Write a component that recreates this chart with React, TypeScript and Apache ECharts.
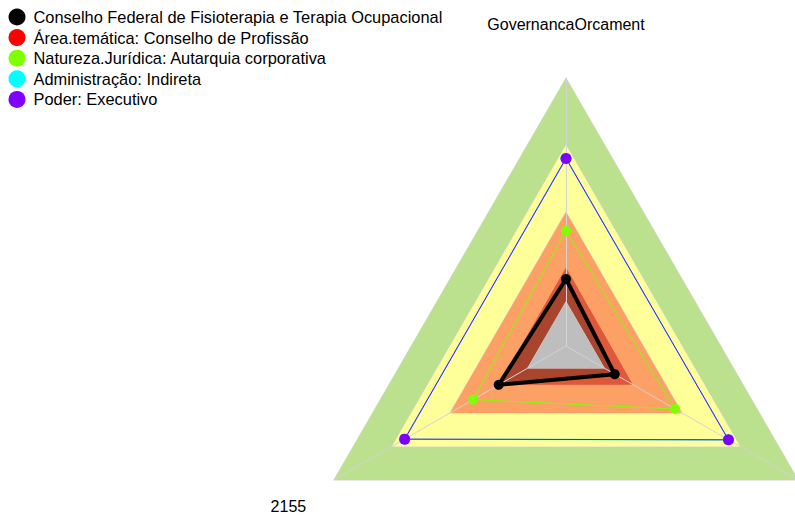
import React, { useEffect, useRef } from "react";
import * as echarts from "echarts";

const indicatorNames = ["GovernancaOrcament", "2155", ""];
const indicatorMax = 100;

// background bands (outer -> inner)
const bandGreen = [100, 100, 100];
const bandYellow = [75, 75, 75];
const bandOrange = [50, 50, 50];
const bandGray = [16.5, 16.5, 16.5];

const seriesNames = [
  "Conselho Federal de Fisioterapia e Terapia Ocupacional",
  "Área.temática: Conselho de Profissão",
  "Natureza.Jurídica: Autarquia corporativa",
  "Administração: Indireta",
  "Poder: Executivo",
];
const seriesColors = ["#000000", "#ff0000", "#80ff00", "#00ffff", "#8000ff"];

const conselhoValues = [25, 29, 21];
const areaTematicaValues = [29, 28.5, 28.5];
const naturezaValues = [43, 40, 47];
const administracaoValues = [70, 69.5, 70];
const poderValues = [70, 69.5, 70];

export default function App() {
  const ref = useRef<HTMLDivElement>(null);
  useEffect(() => {
    if (!ref.current) return;
    const chart = echarts.init(ref.current, undefined, { renderer: "svg" });
    const band = (name: string, values: number[], color: string, z = -1, line = "#d6d6d6") => ({
      type: "radar",
      name,
      z,
      silent: true,
      symbol: "none",
      data: [
        {
          name,
          value: values,
          lineStyle: { color: line, width: 1 },
          areaStyle: { color, opacity: 1 },
          itemStyle: { color },
        },
      ],
    });
    const lineSeries = (idx: number, values: number[], width: number, size: number, showSymbol = true) => ({
      type: "radar",
      name: seriesNames[idx],
      z: 2,
      silent: true,
      symbol: showSymbol ? "circle" : "none",
      symbolSize: size,
      data: [
        {
          name: seriesNames[idx],
          value: values,
          lineStyle: { color: seriesColors[idx], width, opacity: width > 0 ? 1 : 0 },
          itemStyle: { color: seriesColors[idx] },
        },
      ],
    });
    chart.setOption({
      animation: false,
      legend: {
        data: seriesNames.map((n, i) => ({ name: n, itemStyle: { color: seriesColors[i] } })),
        orient: "vertical",
        left: 3.5,
        top: 3.5,
        icon: "circle",
        itemWidth: 23,
        itemHeight: 17,
        itemGap: 3.6,
        selectedMode: false,
        textStyle: { color: "#000", fontSize: 16.4, fontFamily: "Liberation Sans, Arial, sans-serif" },
      },
      radar: {
        center: [566, 346],
        radius: 268,
        startAngle: 90,
        shape: "polygon",
        splitNumber: 4,
        nameGap: 32,
        indicator: indicatorNames.map((n) => ({ name: n, max: indicatorMax, min: 0 })),
        axisName: {
          color: "#000",
          fontSize: 16,
          fontFamily: "Liberation Sans, Arial, sans-serif",
          formatter: (name: string) => (name === indicatorNames[0] ? `{t|${name}}` : `{b|${name}}`),
          rich: {
            t: { fontSize: 16, color: "#000", fontFamily: "Liberation Sans, Arial, sans-serif", padding: [0, 0, 14, 0] },
            b: { fontSize: 16, color: "#000", fontFamily: "Liberation Sans, Arial, sans-serif", padding: [20, 0, 0, 0] },
          },
        },
        axisLine: { lineStyle: { color: "#d3d3d3", width: 1 } },
        splitLine: { show: false },
        splitArea: { show: false },
        axisTick: { show: false },
        axisLabel: { show: false },
      },
      series: [
        band("bandGreen", bandGreen, "#bbe08e"),
        band("bandYellow", bandYellow, "#ffff99"),
        band("bandOrange", bandOrange, "#fca066"),
        band("areaFill", areaTematicaValues, "#e0583a", -1, "#e0583a"),
        band("conselhoFill", conselhoValues, "#a9452e", -1, "#a9452e"),
        band("bandGray", bandGray, "#bebebe"),
        lineSeries(1, areaTematicaValues, 0, 9, false),
        lineSeries(2, naturezaValues, 1, 10),
        lineSeries(3, administracaoValues, 1.2, 11),
        lineSeries(4, poderValues, 1, 11),
        lineSeries(0, conselhoValues, 4, 10),
      ],
    });
    return () => chart.dispose();
  }, []);
  return (
    <div
      ref={ref}
      style={{ position: "fixed", left: 0, top: 0, width: 795, height: 519, background: "#fff" }}
    />
  );
}
